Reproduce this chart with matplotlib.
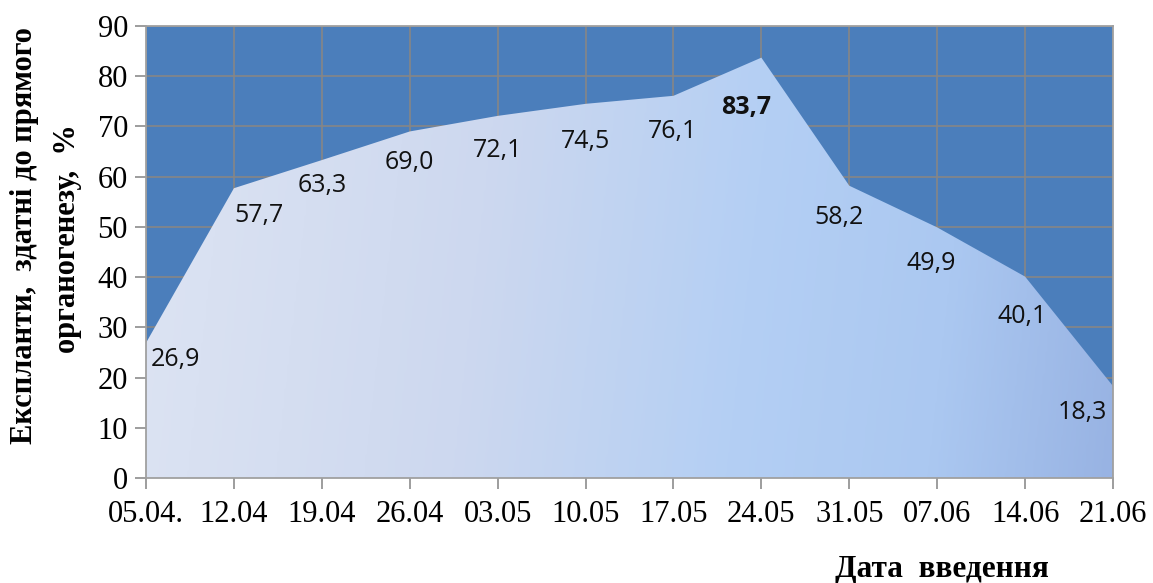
import numpy as np
import matplotlib
matplotlib.use("Agg")
import matplotlib.pyplot as plt
from matplotlib.colors import LinearSegmentedColormap

dates = ["05.04.", "12.04", "19.04", "26.04", "03.05", "10.05", "17.05",
         "24.05", "31.05", "07.06", "14.06", "21.06"]
values = [26.9, 57.7, 63.3, 69.0, 72.1, 74.5, 76.1, 83.7, 58.2, 49.9, 40.1, 18.3]
labels = ["26,9", "57,7", "63,3", "69,0", "72,1", "74,5", "76,1", "83,7",
          "58,2", "49,9", "40,1", "18,3"]
# label offsets in points (dx, dy) relative to each point
offsets = [(21, -12), (18, -20), (0, -18), (0, -22), (0, -25), (0, -27),
           (-1, -26), (-11, -36), (-7, -23), (-4, -26), (-2, -29), (-22, -19)]

serif = "Liberation Serif"
sans = "Open Sans"

fig = plt.figure(figsize=(11.53, 5.83), dpi=100)
ax = fig.add_axes([146 / 1153, 1 - 478 / 583, (1113 - 146) / 1153, (478 - 26) / 583])

x = np.arange(len(values))
ax.set_xlim(0, len(values) - 1)
ax.set_ylim(0, 90)
ax.set_facecolor("#4B7EBB")

ax.set_xticks(x)
ax.set_xticklabels(dates, fontfamily=serif, fontsize=22)
ax.set_yticks(np.arange(0, 91, 10))
ax.set_yticklabels([str(v) for v in range(0, 91, 10)], fontfamily=serif, fontsize=22)
ax.tick_params(axis="both", direction="out", length=8, width=1.2, color="#8C8C8C",
               pad=5)
ax.tick_params(axis="x", pad=8)

ax.grid(True, color="#868686", linewidth=1.2, zorder=0)
ax.set_axisbelow(True)
for s in ax.spines.values():
    s.set_color("#A0A0A0")
    s.set_linewidth(1.3)

# area with a soft horizontal gradient
poly = ax.fill_between(x, values, 0, color="none", linewidth=0, zorder=2)
cmap = LinearSegmentedColormap.from_list(
    "fillgrad",
    [(0.0, "#DDE4F3"), (0.35, "#CDD8EF"), (0.62, "#B4CFF4"), (0.82, "#ABC8F1"),
     (1.0, "#98B3E3")])
gx, gy = np.meshgrid(np.linspace(0, 1, 400), np.linspace(0, 1, 200))
grad = np.clip(gx * 0.95 + gy * 0.05, 0, 1)
img = ax.imshow(grad, cmap=cmap, extent=[0, len(values) - 1, 0, 90],
                origin="upper", aspect="auto", zorder=2, interpolation="bicubic")
img.set_clip_path(poly.get_paths()[0], transform=ax.transData)

for i, (v, lab, off) in enumerate(zip(values, labels, offsets)):
    bold = v == max(values)
    ax.annotate(lab, (i, v), xytext=off, textcoords="offset points",
                ha="center", va="center", fontsize=18, fontfamily=sans,
                fontweight="bold" if bold else "normal", color="#111111",
                zorder=5)

fig.text(25 / 1153, 1 - 236 / 583, "Експланти,  здатні до прямого",
         rotation=90, ha="center", va="center", fontfamily=serif,
         fontweight="bold", fontsize=22)
fig.text(67 / 1153, 1 - 239 / 583, "органогенезу,  %",
         rotation=90, ha="center", va="center", fontfamily=serif,
         fontweight="bold", fontsize=22)
fig.text(942 / 1153, 1 - 569 / 583, "Дата  введення", ha="center", va="center",
         fontfamily=serif, fontweight="bold", fontsize=22.5)

fig.savefig("out.png", dpi=100)
